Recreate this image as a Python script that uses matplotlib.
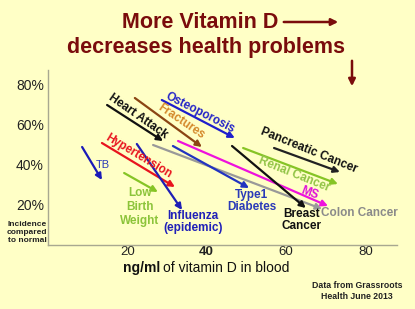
import matplotlib
matplotlib.use("Agg")
import matplotlib.pyplot as plt

plt.rcParams['font.family'] = ['Liberation Sans', 'DejaVu Sans']

# ---- data ----
x_ticks = [20, 40, 60, 80]
x_tick_labels = ["20", "40", "60", "80"]
y_ticks = [20, 40, 60, 80]
y_tick_labels = ["20%", "40%", "60%", "80%"]

conditions = ["TB", "Hypertension", "Low Birth Weight", "Influenza (epidemic)",
              "Heart Attack", "Fractures", "Osteoporosis", "Colon Cancer", "MS",
              "Type1 Diabetes", "Breast Cancer", "Pancreatic Cancer", "Renal Cancer"]
start_x = [8.6, 13.6, 19.2, 22.4, 14.9, 21.9, 28.7, 26.5, 32.8, 31.5, 46.4, 57.0, 49.2]
start_y = [49, 51, 36, 50.5, 70, 73.5, 72.5, 50, 52, 49.5, 49.5, 48.5, 48.5]
end_x = [13.6, 32.0, 27.7, 33.8, 29.0, 38.8, 47.1, 69.1, 70.6, 50.7, 65.0, 73.6, 73.1]
end_y = [32.5, 29, 26.5, 17.5, 52, 49, 53.5, 18, 19.5, 28.5, 18.5, 36.5, 30.5]
arrow_colors = ["#1a1ab8", "#e8141e", "#86c425", "#1f1fb5", "#111111", "#8b4513",
                "#1e1ecc", "#999999", "#ee11dd", "#2233c0", "#111111", "#222222", "#86c425"]

label_text = ["TB", "Hypertension", "Low\nBirth\nWeight", "Influenza\n(epidemic)",
              "Heart Attack", "Fractures", "Osteoporosis", "Colon Cancer", "MS",
              "Type1\nDiabetes", "Breast\nCancer", "Pancreatic Cancer", "Renal Cancer"]
label_x = [13.9, 22.9, 23.2, 36.6, 22.7, 33.5, 38.3, 78.5, 66.0, 51.4, 64.0, 65.8, 62.0]
label_y = [40, 44.5, 19, 11.5, 64.5, 61.5, 66, 16, 26, 22, 12.5, 47, 35.5]
label_rot = [0, -31, 0, 0, -35, -34, -27, 0, -20, 0, 0, -22, -22]
label_colors = ["#2a3ab8", "#e8141e", "#8cc43a", "#2020b8", "#111111", "#d4882a",
                "#2424c8", "#8a8a8a", "#e011d8", "#2a3ab8", "#111111", "#111111", "#92c447"]
label_bold = [False, True, True, True, True, True, True, True, True, True, True, True, True]
label_size = [8, 8.5, 8.5, 8.5, 8.5, 8.5, 8.5, 8.5, 8.5, 8.5, 8.5, 8.5, 8.5]
label_spacing = [1.0, 1.0, 1.25, 1.0, 1.0, 1.0, 1.0, 1.0, 1.0, 1.1, 1.1, 1.0, 1.0]

bg = "#ffffc6"
title_color = "#7a0c0c"

fig = plt.figure(figsize=(4.15, 3.09), dpi=100, facecolor=bg)
ax = fig.add_axes([48/415, 1-245/309, (397-48)/415, (245-70)/309])
ax.set_facecolor(bg)
ax.set_xlim(0, 88)
ax.set_ylim(0, 87.5)
for s in ["top", "right"]:
    ax.spines[s].set_visible(False)
for s in ["left", "bottom"]:
    ax.spines[s].set_color("#a8a890")
    ax.spines[s].set_linewidth(1.0)

ax.set_xticks(x_ticks)
ax.set_xticklabels(x_tick_labels, fontsize=9.5, color="#222222")
ax.get_xticklabels()[1].set_fontweight("bold")
ax.set_yticks(y_ticks)
ax.set_yticklabels(y_tick_labels, fontsize=10, color="#222222")
ax.tick_params(axis="y", length=0, pad=3)
ax.tick_params(axis="x", length=0, pad=1)

for i in range(len(conditions)):
    ax.annotate("", xy=(end_x[i], end_y[i]), xytext=(start_x[i], start_y[i]),
                arrowprops=dict(arrowstyle="-|>", color=arrow_colors[i], lw=1.6,
                                mutation_scale=9, shrinkA=0, shrinkB=0))
for i in range(len(conditions)):
    ax.text(label_x[i], label_y[i], label_text[i], color=label_colors[i],
            fontsize=label_size[i], fontweight="bold" if label_bold[i] else "normal",
            rotation=label_rot[i], rotation_mode="anchor", ha="center", va="center",
            linespacing=label_spacing[i])

# titles and notes
fig.text(200/415, 1-22/309, "More Vitamin D", fontsize=15.5, fontweight="bold",
         color=title_color, ha="center", va="center")
fig.text(206/415, 1-48/309, "decreases health problems", fontsize=15.5, fontweight="bold",
         color=title_color, ha="center", va="center")
fig.add_artist(matplotlib.patches.FancyArrowPatch((281/415, 1-22/309), (341/415, 1-22/309),
               transform=fig.transFigure, arrowstyle="-|>", color=title_color, lw=1.8,
               mutation_scale=10))
fig.add_artist(matplotlib.patches.FancyArrowPatch((352/415, 1-58/309), (352/415, 1-89/309),
               transform=fig.transFigure, arrowstyle="-|>", color=title_color, lw=1.8,
               mutation_scale=10))

fig.text(27/415, 1-232/309, "Incidence\ncompared\nto normal", fontsize=6, fontweight="bold",
         color="#222222", ha="center", va="center", linespacing=1.2)

t1 = fig.text(123/415, 1-268/309, "ng/ml", fontsize=10, fontweight="bold",
              color="#111111", ha="left", va="center")
fig.canvas.draw()
bb = t1.get_window_extent()
fig.text(bb.x1/415 + 3/415, 1-268/309, "of vitamin D in blood", fontsize=10,
         color="#111111", ha="left", va="center")

fig.text(357/415, 1-291/309, "Data from Grassroots\nHealth June 2013", fontsize=6.3,
         fontweight="bold", color="#222222", ha="center", va="center", linespacing=1.4)

fig.savefig("out.png", dpi=100, facecolor=bg)
